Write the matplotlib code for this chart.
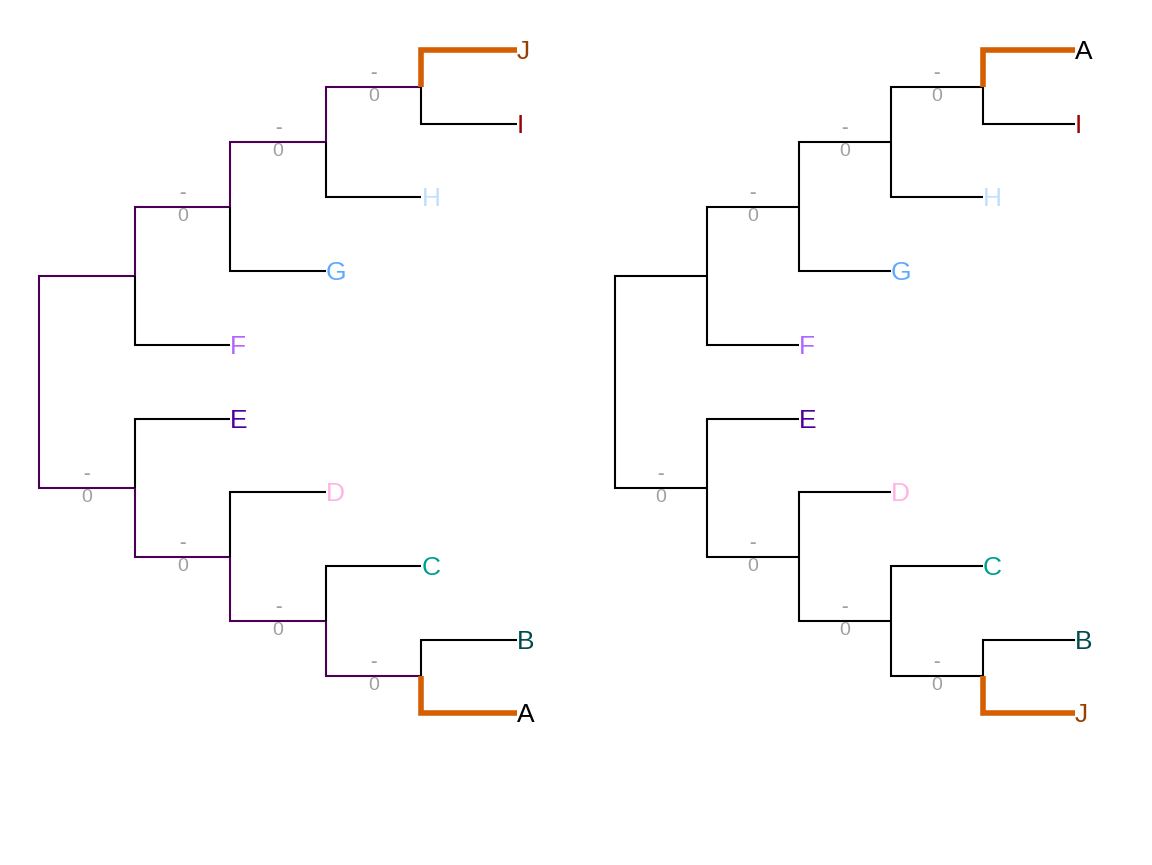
import matplotlib
matplotlib.use("Agg")
import matplotlib.pyplot as plt

plt.rcParams["font.family"] = ["Liberation Sans", "DejaVu Sans"]

# Leaf order (top to bottom) and label colours for both trees
left_labels = ["J", "I", "H", "G", "F", "E", "D", "C", "B", "A"]
right_labels = ["A", "I", "H", "G", "F", "E", "D", "C", "B", "J"]
label_colors = {"J": "#993F00", "I": "#990000", "H": "#C2DFFF", "G": "#5EA8FF",
                "F": "#B266FF", "E": "#4C0099", "D": "#FFB3E6", "C": "#009E8F",
                "B": "#004C4C", "A": "#000000"}
# tree: nested tuples of leaf indices
tree = ((((0, 1), 2), 3), 4), (5, (6, (7, (8, 9))))
edge_label_top, edge_label_bot = "-", "0"

fig = plt.figure(figsize=(11.52, 8.65), dpi=100)
ax = fig.add_axes([0, 0, 1, 1])
ax.set_xlim(0, 1152)
ax.set_ylim(865, 0)
ax.axis("off")

leaf_y0, leaf_dy = 50, 73.7
purple = "#4B0055"
orange = "#D55E00"


def height(n):
    if isinstance(n, int):
        return 0
    return 1 + max(height(c) for c in n)


def ypos(n):
    if isinstance(n, int):
        return leaf_y0 + n * leaf_dy
    return (ypos(n[0]) + ypos(n[1])) / 2


def contains(n, leaf):
    if isinstance(n, int):
        return n == leaf
    return contains(n[0], leaf) or contains(n[1], leaf)


def draw(n, x0, scale, left_tree, labels, parent_x=None, is_root=True):
    x = x0 + scale * (5 - height(n))
    y = ypos(n)
    for c in n:
        cy = ypos(c)
        if isinstance(c, int):
            cx = x + scale
        else:
            cx = x0 + scale * (5 - height(c))
        hl = isinstance(c, int) and c in (0, 9)
        on_path = left_tree and not isinstance(c, int) and (contains(c, 0) or contains(c, 9))
        if hl:
            col, lw = orange, 4
        elif on_path:
            col, lw = purple, 1.5
        else:
            col, lw = "black", 1.5
        ax.plot([x, x, cx], [y, cy, cy], color=col, lw=lw, solid_capstyle="butt",
                solid_joinstyle="miter")
        if isinstance(c, int):
            lab = labels[c]
            ax.text(cx, cy + 2, lab, color=label_colors[lab], fontsize=19,
                    ha="left", va="center")
        else:
            draw(c, x0, scale, left_tree, labels, x, False)
    if parent_x is not None and not (is_root is False and parent_x is not None and
                                     n == tree[0]):
        mx = (parent_x + x) / 2
        ax.text(mx, y - 5, edge_label_top, color="#A0A0A0", fontsize=14,
                ha="center", va="bottom", fontweight="bold")
        ax.text(mx, y + 1, edge_label_bot, color="#A0A0A0", fontsize=14,
                ha="center", va="top")


draw(tree, 39, 95.6, True, left_labels)
draw(tree, 615, 92, False, right_labels)

fig.savefig("out.png", dpi=100)
